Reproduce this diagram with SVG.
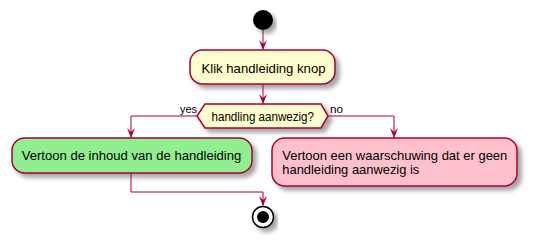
<svg xmlns="http://www.w3.org/2000/svg" width="533" height="244" viewBox="0 0 533 244">
  <defs>
    <filter id="shadow" x="-10%" y="-20%" width="130%" height="160%">
      <feDropShadow dx="4" dy="4" stdDeviation="2" flood-color="#000000" flood-opacity="0.35"/>
    </filter>
    <marker id="arrow" viewBox="0 0 10 10" refX="10" refY="5" markerWidth="10" markerHeight="10" markerUnits="userSpaceOnUse" orient="auto">
      <polygon points="0,1 10,5 0,9 4,5" fill="#A80036"/>
    </marker>
  </defs>
  <style>
    .act { stroke: #A80036; stroke-width: 1.5; filter: url(#shadow); }
    .txt { font-family: "Liberation Sans", Arial, sans-serif; font-size: 13px; fill: #000000; }
    .cond { font-family: "Liberation Sans", Arial, sans-serif; font-size: 12.5px; fill: #000000; }
    .lbl { font-family: "Liberation Sans", Arial, sans-serif; font-size: 11.5px; fill: #000000; }
    .edge { fill: none; stroke: #A80036; stroke-width: 1; marker-end: url(#arrow); }
  </style>
  <rect width="533" height="244" fill="#FFFFFF"/>

  <g id="start">
    <circle cx="263" cy="20" r="10" fill="#000000" filter="url(#shadow)"/>
  </g>

  <g id="klik">
    <rect class="act" x="190" y="50" width="145" height="34" rx="12.5" fill="#FEFECE"/>
    <text class="txt" x="201.5" y="72.5" textLength="124" lengthAdjust="spacingAndGlyphs">Klik handleiding knop</text>
  </g>

  <g id="decision">
    <polygon class="act" points="197,116 205,104 321,104 328,116 321,128 205,128" fill="#FEFECE"/>
    <text class="cond" x="211.5" y="120.5" textLength="102.5" lengthAdjust="spacingAndGlyphs">handling aanwezig?</text>
  </g>

  <g id="inhoud">
    <rect class="act" x="12" y="138" width="240" height="35" rx="12.5" fill="#90EE90"/>
    <text class="txt" x="21.7" y="159.5" textLength="219.6" lengthAdjust="spacingAndGlyphs">Vertoon de inhoud van de handleiding</text>
  </g>

  <g id="waarschuwing">
    <rect class="act" x="272" y="138" width="245" height="48" rx="12.5" fill="#FFC0CB"/>
    <text class="txt" x="282.3" y="159.5" textLength="225" lengthAdjust="spacingAndGlyphs">Vertoon een waarschuwing dat er geen</text>
    <text class="txt" x="282.3" y="173.5" textLength="137" lengthAdjust="spacingAndGlyphs">handleiding aanwezig is</text>
  </g>

  <g id="stop">
    <circle cx="263" cy="217" r="10.5" fill="#FFFFFF" stroke="#000000" stroke-width="1.5" filter="url(#shadow)"/>
    <circle cx="263" cy="217" r="6" fill="#000000"/>
  </g>

  <g id="connectors">
    <line class="edge" x1="263" y1="30" x2="263" y2="50"/>
    <line class="edge" x1="263" y1="84" x2="263" y2="104"/>
    <polyline class="edge" points="197,116 131,116 131,138"/>
    <polyline class="edge" points="328,116 394,116 394,138"/>
    <polyline class="edge" points="131,173 131,192 263,192 263,206"/>
    <text class="lbl" x="180" y="113" textLength="17" lengthAdjust="spacingAndGlyphs">yes</text>
    <text class="lbl" x="330" y="113" textLength="13" lengthAdjust="spacingAndGlyphs">no</text>
  </g>
</svg>
